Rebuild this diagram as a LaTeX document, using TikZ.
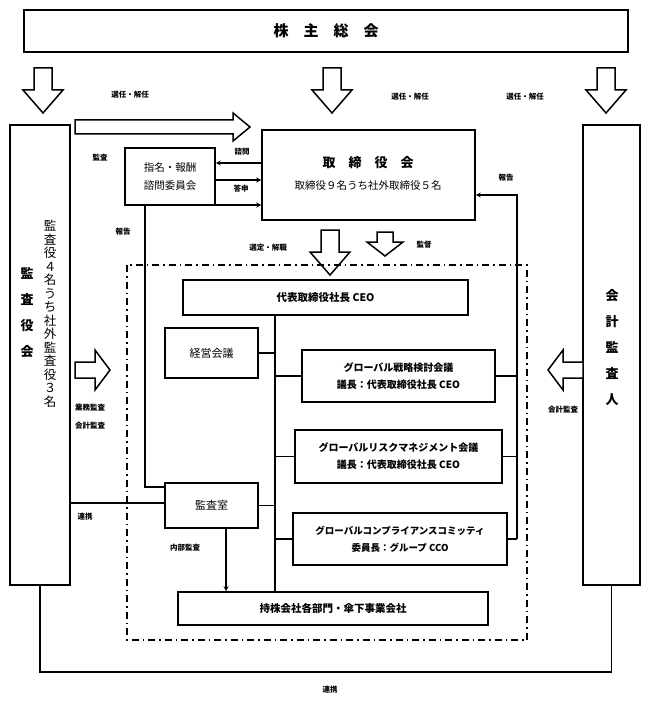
\documentclass[tikz,border=0pt]{standalone}
\usepackage{fontspec}
\setmainfont{Noto Sans CJK JP}
\usetikzlibrary{calc}
\begin{document}
\begin{tikzpicture}[x=1pt,y=-1pt,
  box/.style={draw,line width=1.5pt,inner sep=0pt},
  ln/.style={line width=1.2pt},
  lbl/.style={font=\fontsize{7.5}{8}\selectfont\bfseries,inner sep=1pt},
  txt/.style={font=\fontsize{11}{17}\selectfont\bfseries,align=center},
  blk/.style={draw,line width=1.5pt,fill=white},
  pics/darrow/.style={code={\draw[blk] (-9,0)--(9,0)--(9,22)--(20,22)--(0,45)--(-20,22)--(-9,22)--cycle;}},
  pics/sdarrow/.style={code={\draw[blk] (-8,0)--(8,0)--(8,10)--(18,10)--(0,24)--(-18,10)--(-8,10)--cycle;}},
  pics/rarrow/.style={code={\draw[blk] (0,-8)--(20,-8)--(20,-20)--(35,0)--(20,20)--(20,8)--(0,8)--cycle;}},
  pics/larrow/.style={code={\draw[blk] (0,-8)--(-20,-8)--(-20,-20)--(-35,0)--(-20,20)--(-20,8)--(0,8)--cycle;}},
  >=stealth]
\useasboundingbox (0,0) rectangle (648,711);
% top
\node[box,minimum width=604,minimum height=42,font=\fontsize{15}{16}\selectfont\bfseries] (gm) at (326,31) {株\quad 主\quad 総\quad 会};
\pic at (43,68) {darrow};
\pic at (332,68) {darrow};
\pic at (606,68) {darrow};
\node[lbl] (s1) at (130,95) {選任・解任};
\node[lbl] (s2) at (410,97) {選任・解任};
\node[lbl] (s3) at (525,97) {選任・解任};
% side boxes
\node[box,minimum width=60,minimum height=460] (kansa) at (40,355) {};
\node[txt,font=\fontsize{13}{26}\selectfont\bfseries] (kt1) at (27,313) {監\\査\\役\\会};
\node[txt,font=\fontsize{12.5}{13.5}\selectfont] (kt2) at (50,314) {監\\査\\役\\４\\名\\う\\ち\\社\\外\\監\\査\\役\\３\\名};
\node[box,minimum width=57,minimum height=460] (kaikei) at (611.5,355) {};
\node[txt,font=\fontsize{13}{26}\selectfont\bfseries] (at) at (612,348) {会\\計\\監\\査\\人};
% right block arrow
\draw[blk] (75,120)--(233,120)--(233,113)--(250,127)--(233,141)--(233,134)--(75,134)--cycle;
% board
\node[box,minimum width=213,minimum height=90] (board) at (368.5,175) {};
\node[font=\fontsize{13}{14}\selectfont\bfseries] (bt) at (368,163) {取\quad 締\quad 役\quad 会};
\node[font=\fontsize{10.5}{12}\selectfont] (bt2) at (368,186) {取締役９名うち社外取締役５名};
\node[box,minimum width=90,minimum height=57,txt,font=\fontsize{10.5}{18}\selectfont] (comm) at (170,176.5) {指名・報酬\\諮問委員会};
\node[lbl] (kansaL) at (100,158) {監査};
\draw[ln,->] (board.west|-0,163) -- (comm.east|-0,163);
\draw[ln,->] (comm.east|-0,180) -- (board.west|-0,180);
\node[lbl] at (242,152) {諮問};
\node[lbl] at (241,189) {答申};
% down arrows under board
\pic at (330,230) {darrow};
\pic at (385,232) {sdarrow};
\node[lbl] at (268,248) {選定・解職};
\node[lbl] at (424,245) {監督};
% dash-dot region
\draw[line width=1.5pt,dash pattern=on 7pt off 4pt on 1.5pt off 4pt] (127,265) rectangle (527,640);
% executive
\node[box,minimum width=285,minimum height=35,font=\fontsize{10.5}{12}\selectfont\bfseries] (ceo) at (325.5,297.5) {代表取締役社長 CEO};
\node[box,minimum width=93,minimum height=50,txt,font=\fontsize{11}{17}\selectfont] (keiei) at (211.5,353) {経営会議};
\node[box,minimum width=193,minimum height=52,txt,font=\fontsize{10}{17}\selectfont\bfseries] (senr) at (398.5,376) {グローバル戦略検討会議\\議長：代表取締役社長 CEO};
\node[box,minimum width=207,minimum height=53,txt,font=\fontsize{10}{17}\selectfont\bfseries] (risk) at (398.5,456.5) {グローバルリスクマネジメント会議\\議長：代表取締役社長 CEO};
\node[box,minimum width=93,minimum height=45,txt,font=\fontsize{11}{17}\selectfont] (kansashitsu) at (211.5,505.5) {監査室};
\node[box,minimum width=214,minimum height=52,txt,font=\fontsize{9.5}{17}\selectfont\bfseries] (comp) at (400,539) {グローバルコンプライアンスコミッティ\\委員長：グループ CCO};
\node[box,minimum width=310,minimum height=33,font=\fontsize{10.5}{12}\selectfont\bfseries] (hold) at (333,608.5) {持株会社各部門・傘下事業会社};
% trunk
\coordinate (tt) at (275,315);
\draw[ln] (tt) -- (275,592);
\draw[ln] (keiei.east) -- (275,353);
\draw[ln] (senr.west) -- (275,376);
\draw[ln] (risk.west) -- (275,456.5);
\draw[ln] (kansashitsu.east) -- (275,505.5);
\draw[ln] (comp.west) -- (275,539);
% right report line
\draw[ln] (senr.east) -- (517,376);
\draw[ln] (risk.east) -- (517,456.5);
\draw[ln] (comp.east) -- (517,539);
\draw[ln,->] (517,539) -- (517,195) -- (board.east|-0,195);
\node[lbl] at (506,178) {報告};
% left report line
\draw[ln,->] (kansashitsu.west|-0,487) -- (145,487) -- (145,205) -- (board.west|-0,205);
\node[lbl] at (123,232) {報告};
% renkei
\draw[ln] (kansa.east|-0,503) -- (kansashitsu.west|-0,503);
\node[lbl] at (85,517) {連携};
% internal audit
\draw[ln,->] (kansashitsu.south-|226,0) -- (hold.north-|226,0);
\node[lbl] at (185,548) {内部監査};
% side block arrows
\pic at (75,370) {rarrow};
\node[lbl] at (90,408) {業務監査};
\node[lbl] at (90,426) {会計監査};
\pic at (583,370) {larrow};
\node[lbl] at (563,410) {会計監査};
% bottom renkei
\draw[ln] (kansa.south) -- (40,672) -- (611.5,672) -- (kaikei.south);
\node[lbl] at (330,690) {連携};
\end{tikzpicture}
\end{document}
